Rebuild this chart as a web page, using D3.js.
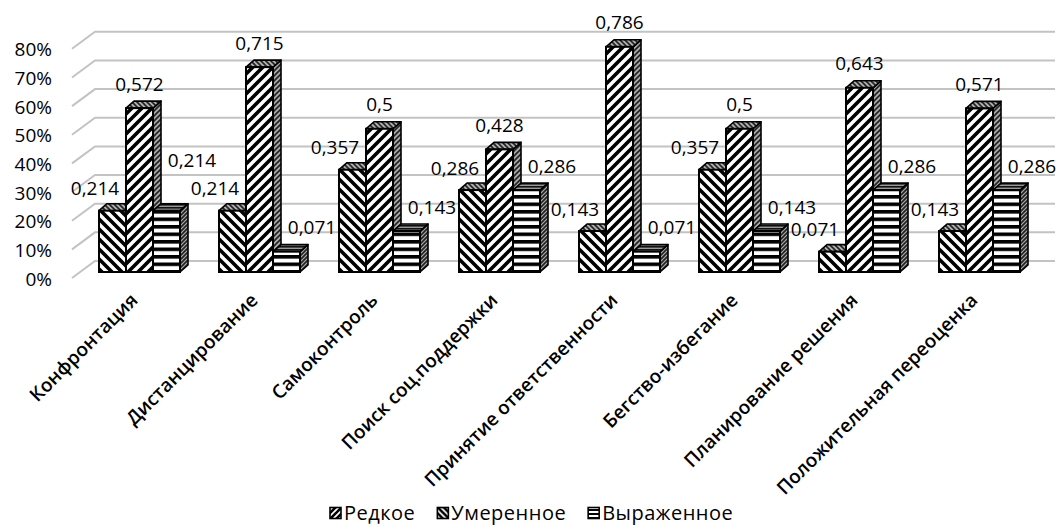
<!DOCTYPE html>
<html>
<head>
<meta charset="utf-8">
<script src="https://cdn.jsdelivr.net/npm/d3@7/dist/d3.min.js"></script>
<style>
  html, body { margin: 0; padding: 0; background: #fff; }
  svg { display: block; font-family: "Open Sans", "Noto Sans", sans-serif; }
</style>
</head>
<body>
<svg id="chart" width="1062" height="525"></svg>
<script>
const categories = ["Конфронтация", "Дистанцирование", "Самоконтроль", "Поиск соц.поддержки",
  "Принятие ответственности", "Бегство-избегание", "Планирование решения", "Положительная переоценка"];
const seriesNames = ["Редкое", "Умеренное", "Выраженное"];
const redkoe      = [0.214, 0.214, 0.357, 0.286, 0.143, 0.357, 0.071, 0.143];
const umerennoe   = [0.572, 0.715, 0.5,   0.428, 0.786, 0.5,   0.643, 0.571];
const vyrazhennoe = [0.214, 0.071, 0.143, 0.286, 0.071, 0.143, 0.286, 0.286];
const yTicks = [0, 0.1, 0.2, 0.3, 0.4, 0.5, 0.6, 0.7, 0.8];

const seriesValues = [redkoe, umerennoe, vyrazhennoe];

const svg = d3.select("#chart");
const defs = svg.append("defs");

// ---- patterns ----
function stripePattern(id, type, bg, fg, period, w) {
  const p = defs.append("pattern").attr("id", id)
    .attr("patternUnits", "userSpaceOnUse")
    .attr("width", period).attr("height", period);
  p.append("rect").attr("width", period).attr("height", period).attr("fill", bg);
  const P = period;
  if (type === "down") {
    p.append("path").attr("d", `M${-P/2},${-P/2} L${P*1.5},${P*1.5} M${-P/2},${P/2} L${P/2},${P*1.5} M${P/2},${-P/2} L${P*1.5},${P/2}`)
      .attr("stroke", fg).attr("stroke-width", w);
  } else if (type === "up") {
    p.append("path").attr("d", `M${-P/2},${P*1.5} L${P*1.5},${-P/2} M${-P/2},${P/2} L${P/2},${-P/2} M${P/2},${P*1.5} L${P*1.5},${P/2}`)
      .attr("stroke", fg).attr("stroke-width", w);
  } else {
    p.append("rect").attr("x", 0).attr("y", 0).attr("width", period).attr("height", w).attr("fill", fg);
  }
}
stripePattern("front0", "down", "#fff", "#000", 10, 3.6);
stripePattern("front1", "up", "#fff", "#000", 10, 3.6);
stripePattern("front2", "horiz", "#fff", "#000", 7.5, 3.6);
stripePattern("top0", "down", "#b0b0b0", "#222", 5, 1.6);
stripePattern("top1", "down", "#b0b0b0", "#222", 5, 1.6);
stripePattern("top2", "horiz", "#999", "#111", 3, 1.6);
stripePattern("side0", "up", "#a8a8a8", "#222", 5, 1.6);
stripePattern("side1", "up", "#a8a8a8", "#222", 5, 1.6);
stripePattern("side2", "up", "#a8a8a8", "#222", 4, 1.6);
stripePattern("leg0", "up", "#fff", "#000", 6, 2.6);
stripePattern("leg1", "down", "#fff", "#000", 6, 2.6);
stripePattern("leg2", "horiz", "#fff", "#000", 4, 2);

// ---- geometry ----
const floorFront = 272;
const y = d3.scaleLinear().domain([0, 0.8]).range([floorFront, floorFront - 229.2]);
const backDy = -11;       // back wall offset from bar front plane
const sideDy = 6;         // side wall front edge offset
const sideX = 72, backX = 95, backRight = 1055;
const frontDx = -15.5;    // bar front offset from back band position
const depth = {dx: 8, dy: -7};

const xBack = d3.scaleBand().domain(categories).range([backX, backRight])
  .paddingInner(0.325).paddingOuter(0.1625);
const xSub = d3.scaleBand().domain(seriesNames).range([0, xBack.bandwidth()]);

// ---- gridlines ----
const grid = svg.append("g");
grid.selectAll("polyline").data(yTicks).join("polyline")
  .attr("points", d => `${sideX},${y(d) + sideDy} ${backX},${y(d) + backDy} ${backRight},${y(d) + backDy}`)
  .attr("fill", "none").attr("stroke", "#c3c3c3").attr("stroke-width", 2);

// ---- y labels ----
const fmtPct = d3.format(".0%");
svg.append("g").selectAll("text").data(yTicks).join("text")
  .attr("x", 52).attr("y", d => y(d) + sideDy + 1)
  .attr("dy", "0.35em").attr("text-anchor", "end")
  .attr("font-size", 19).attr("fill", "#000")
  .text(d => fmtPct(d));

// ---- bars ----
const bars = svg.append("g");
categories.forEach((c, ci) => {
  seriesNames.forEach((s, si) => {
    const v = seriesValues[si][ci];
    const x0 = xBack(c) + frontDx + xSub(s);
    const w = xSub.bandwidth();
    const yt = y(v), yb = y(0);
    const g = bars.append("g");
    g.append("path")
      .attr("d", `M${x0 + w},${yb} L${x0 + w + depth.dx},${yb + depth.dy} L${x0 + w + depth.dx},${yt + depth.dy} L${x0 + w},${yt} Z`)
      .attr("fill", `url(#side${si})`).attr("stroke", "#000").attr("stroke-width", 1.6).attr("stroke-linejoin", "round");
    g.append("path")
      .attr("d", `M${x0},${yt} L${x0 + depth.dx},${yt + depth.dy} L${x0 + w + depth.dx},${yt + depth.dy} L${x0 + w},${yt} Z`)
      .attr("fill", `url(#top${si})`).attr("stroke", "#000").attr("stroke-width", 1.6).attr("stroke-linejoin", "round");
    g.append("rect").attr("x", x0).attr("y", yt).attr("width", w).attr("height", yb - yt)
      .attr("fill", `url(#front${si})`).attr("stroke", "#000").attr("stroke-width", 2);
  });
});

// ---- data labels ----
const fmtVal = v => String(v).replace(".", ",");
const labels = [];
categories.forEach((c, ci) => {
  seriesNames.forEach((s, si) => {
    const v = seriesValues[si][ci];
    const x0 = xBack(c) + frontDx + xSub(s);
    const w = xSub.bandwidth();
    let lx, ly;
    if (si === 0) { lx = x0 - 4; ly = y(v) - 22; }
    else if (si === 1) { lx = x0 + w / 2; ly = y(v) - 24; }
    else { lx = x0 + w + 12; ly = y(v) - 24; }
    labels.push({ci, si, v, lx, ly});
  });
});
labels.forEach(l => {
  if (l.si !== 2) return;
  const nxt = labels.find(o => o.ci === l.ci + 1 && o.si === 0);
  if (nxt && Math.abs(nxt.lx - l.lx) < 50 && Math.abs(nxt.ly - l.ly) < 20) l.ly = nxt.ly - 28;
});
svg.append("g").selectAll("text").data(labels).join("text")
  .attr("x", d => d.lx).attr("y", d => d.ly).attr("dy", "0.35em")
  .attr("text-anchor", "middle").attr("font-size", 19).attr("fill", "#000")
  .text(d => fmtVal(d.v));

// ---- category labels ----
svg.append("g").selectAll("text").data(categories).join("text")
  .attr("transform", c => `translate(${xBack(c) + frontDx + xBack.bandwidth() / 2 - 10},${292}) rotate(-45)`)
  .attr("text-anchor", "end").attr("dy", "0.7em")
  .attr("font-size", 19).attr("font-weight", 600).attr("fill", "#000")
  .text(c => c);

// ---- legend ----
const legend = svg.append("g");
const items = legend.selectAll("g").data(seriesNames).join("g");
items.append("rect").attr("width", 11).attr("height", 11).attr("y", -5.5)
  .attr("fill", (d, i) => `url(#leg${i})`).attr("stroke", "#000").attr("stroke-width", 1.6);
items.append("text").attr("x", 14).attr("dy", "0.35em").attr("font-size", 20)
  .attr("letter-spacing", 0.5).attr("fill", "#000").text(d => d);
const widths = [];
items.each(function () { widths.push(14 + this.querySelector("text").getComputedTextLength()); });
const gap = 22;
let start = 330;
items.attr("transform", (d, i) => {
  const t = `translate(${start},513)`;
  start += widths[i] + gap;
  return t;
});
</script>
</body>
</html>
